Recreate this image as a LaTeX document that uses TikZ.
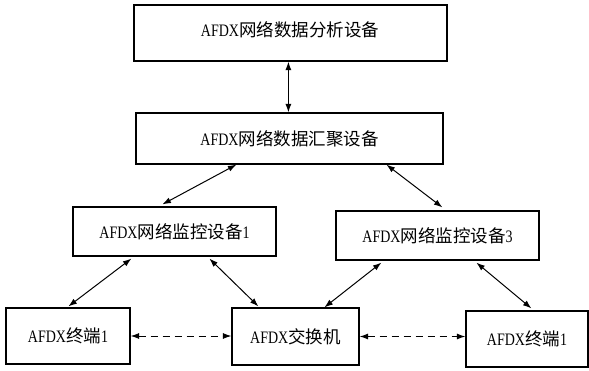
\documentclass[tikz,border=0pt]{standalone}
\usepackage{fontspec}
\setmainfont{Liberation Serif}[FakeStretch=0.8]
\newfontfamily\cjk{Noto Sans CJK SC}
\usetikzlibrary{arrows.meta,calc}
\tikzset{
  box/.style={draw=black, line width=1.2pt, fill=white, inner sep=0pt, font=\fontsize{17.5}{20}\selectfont},
  link/.style={line width=1pt, {Latex[length=8.5pt,width=6pt]}-{Latex[length=8.5pt,width=6pt]}},
  dlink/.style={link, dash pattern=on 7pt off 5pt}
}
\begin{document}
\begin{tikzpicture}[x=1pt,y=-1pt]
\useasboundingbox (0,0) rectangle (589,370);
\node[box, minimum width=313pt, minimum height=56pt] (A) at (290.5,33) {};
\node (At) at (290,30) [font=\fontsize{17.5}{20}\selectfont, inner sep=0pt] {AFDX{\cjk 网络数据分析设备}};
\node[box, minimum width=307pt, minimum height=51pt] (B) at (289.5,138.5) {AFDX{\cjk 网络数据汇聚设备}};
\node[box, minimum width=203pt, minimum height=49pt] (M1) at (174.5,231.5) {AFDX{\cjk 网络监控设备}1};
\node[box, minimum width=203pt, minimum height=49pt] (M3) at (437.5,235.5) {AFDX{\cjk 网络监控设备}3};
\node[box, minimum width=124pt, minimum height=56pt] (T1) at (68,336) {AFDX{\cjk 终端}1};
\node[box, minimum width=127pt, minimum height=57pt] (S) at (295.5,336.5) {AFDX{\cjk 交换机}};
\node[box, minimum width=122pt, minimum height=56pt] (T2) at (527,339) {AFDX{\cjk 终端}1};

\draw[link] ($(A.south west)+(155,0)$) -- ($(B.north west)+(153,0)$);
\draw[link] ($(B.south west)+(101,0)$) -- ($(M1.north west)+(90,-2)$);
\draw[link] ($(B.south west)+(251,0)$) -- ($(M3.north west)+(107,-3)$);
\draw[link] ($(M1.south west)+(59,2)$) -- ($(T1.north west)+(63,-1)$);
\draw[link] ($(M1.south west)+(137,2)$) -- ($(S.north west)+(27,-1)$);
\draw[link] ($(M3.south west)+(46,2)$) -- ($(S.north west)+(93,0)$);
\draw[link] ($(M3.south west)+(141,2)$) -- ($(T2.north west)+(66,-2)$);
\draw[dlink] (T1.east) -- (T1.east -| S.west);
\draw[dlink] (S.east) -- (S.east -| T2.west);
\end{tikzpicture}
\end{document}
